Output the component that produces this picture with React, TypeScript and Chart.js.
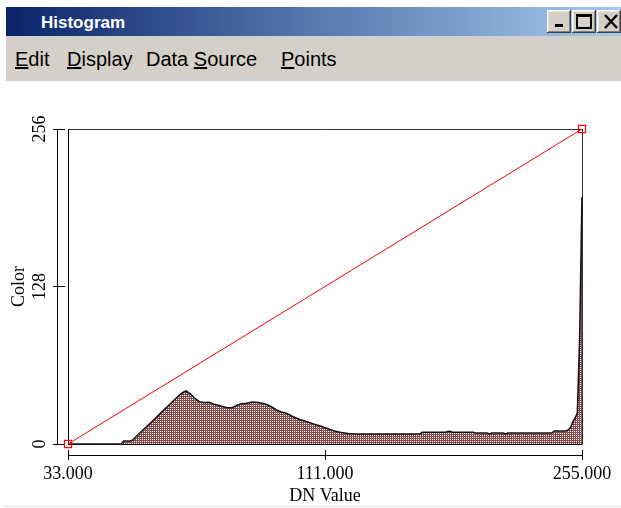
import React, { useEffect, useRef } from 'react';
import { Chart, registerables } from 'chart.js';

Chart.register(...registerables);

// Histogram: DN value and relative frequency
const histDN = [33, 56, 57, 60, 61, 64, 67, 70, 73, 76, 78, 80, 82, 83, 84, 85, 86, 88, 90, 92, 94, 96, 98, 100, 102, 104, 106, 108, 110, 113, 115, 117, 119, 121, 123, 125, 127, 128, 130, 133, 136, 139, 142, 145, 148, 151, 154, 157, 170, 185, 186, 196, 197, 198, 199, 208, 209, 214, 215, 216, 221, 222, 223, 235, 242, 243, 248, 249, 250, 251, 252, 253, 254, 255];
const histCounts = [0, 0, 3, 3, 4, 11, 17.5, 24, 31, 37.5, 42, 46.5, 50.5, 52, 53, 51.5, 50, 45, 42, 41.5, 41.7, 39.7, 38.8, 37.3, 36.3, 36.3, 38.7, 40.3, 40.8, 42, 41.5, 40.8, 39.3, 37, 34, 32, 31, 30, 27.5, 24.5, 22.5, 20, 18, 15.5, 13, 11.5, 10.5, 10, 10, 10, 11.7, 11.7, 12.5, 12.7, 11.7, 11.7, 11, 11, 10, 11, 11, 10, 11, 11, 11, 13, 13, 14, 16.5, 22, 26, 31, 106, 247];
const histMax = 315;

// Colour mapping line (DN -> Color)
const mapInput = [33, 255];
const mapOutput = [0, 256];

// Axes
const xMin = 33;
const xMax = 255;
const xTickValues = [33, 144, 255];
const xTickLabels = ['33.000', '111.000', '255.000'];
const yTickValues = [0, 128, 256];
const yTickLabels = ['0', '128', '256'];

const menuItems = [
  { label: 'Edit', u: 0, left: 15 },
  { label: 'Display', u: 0, left: 67 },
  { label: 'Data Source', u: 5, left: 146 },
  { label: 'Points', u: 0, left: 281 },
];

const serif = "'Liberation Serif', 'Times New Roman', serif";

function setTicks(values: number[]) {
  return (scale: any) => {
    scale.ticks = values.map((v) => ({ value: v }));
  };
}

function gapScale(position: string, weight: number, size: number, color: string | null) {
  const horizontal = position === 'top' || position === 'bottom';
  return {
    type: 'linear',
    position,
    weight,
    display: true,
    min: 0,
    max: 1,
    ticks: { display: false },
    grid: { display: false, drawTicks: false },
    border: { display: !!color, color: color || '#000', width: 1 },
    afterFit: (s: any) => {
      if (horizontal) s.height = size;
      else s.width = size;
    },
  };
}

export default function App() {
  const canvasRef = useRef<HTMLCanvasElement | null>(null);

  useEffect(() => {
    const canvas = canvasRef.current;
    if (!canvas) return;
    const ctx = canvas.getContext('2d');
    if (!ctx) return;

    const pc = document.createElement('canvas');
    pc.width = 2;
    pc.height = 2;
    const p = pc.getContext('2d')!;
    p.fillStyle = '#8a4848';
    p.fillRect(0, 0, 2, 2);
    p.fillStyle = '#ffffff';
    p.fillRect(0, 0, 1, 1);
    const pattern = ctx.createPattern(pc, 'repeat');

    const chart = new Chart(ctx, {
      type: 'line',
      data: {
        datasets: [
          {
            label: 'Color',
            data: mapInput.map((x, i) => ({ x, y: mapOutput[i] })),
            xAxisID: 'x',
            yAxisID: 'y',
            borderColor: '#ff0000',
            borderWidth: 1,
            pointStyle: 'rect',
            pointRadius: 5,
            pointBorderColor: '#ff0000',
            pointBackgroundColor: 'rgba(0,0,0,0)',
            pointBorderWidth: 1.2,
            fill: false,
            tension: 0,
            clip: false,
            order: 0,
          } as any,
          {
            label: 'Histogram',
            data: histDN.map((x, i) => ({ x, y: histCounts[i] })),
            xAxisID: 'x',
            yAxisID: 'yHist',
            borderColor: '#141414',
            borderWidth: 1.6,
            backgroundColor: pattern as any,
            fill: 'origin',
            pointRadius: 0,
            tension: 0,
            clip: false,
            order: 1,
          } as any,
        ],
      },
      options: {
        responsive: false,
        animation: false,
        devicePixelRatio: 1,
        events: [],
        layout: { padding: { left: 0, top: 48, right: 39, bottom: 0 } },
        plugins: {
          legend: { display: false },
          tooltip: { enabled: false },
        },
        scales: {
          x: {
            type: 'linear',
            position: 'bottom',
            weight: 2,
            display: true,
            min: xMin,
            max: xMax,
            afterBuildTicks: setTicks(xTickValues),
            ticks: {
              callback: (_v: any, i: number) => xTickLabels[i],
              font: { family: serif, size: 18 },
              color: '#000',
              padding: 8,
              maxRotation: 0,
              autoSkip: false,
            },
            grid: { display: false, drawTicks: false },
            border: { display: true, color: '#000', width: 1 },
            title: {
              display: true,
              text: 'DN Value',
              font: { family: serif, size: 18 },
              color: '#000',
              padding: { top: 0, bottom: 1 },
            },
            afterFit: (s: any) => { s.height = 53; },
          },
          xTicks: {
            type: 'linear',
            position: 'bottom',
            weight: 1,
            display: true,
            min: xMin,
            max: xMax,
            afterBuildTicks: setTicks(xTickValues),
            ticks: { display: false, autoSkip: false },
            grid: { display: true, drawOnChartArea: false, drawTicks: true, tickLength: 10, color: '#000', lineWidth: 1 },
            border: { display: false },
            afterFit: (s: any) => { s.height = 5; },
          },
          xGap: gapScale('bottom', 0, 6, '#000'),
          xTop: gapScale('top', 0, 0, '#333'),
          y: {
            type: 'linear',
            position: 'left',
            weight: 2,
            display: true,
            min: 0,
            max: 256,
            afterBuildTicks: setTicks(yTickValues),
            ticks: {
              callback: (_v: any, i: number) => yTickLabels[i],
              minRotation: 90,
              maxRotation: 90,
              crossAlign: 'center',
              padding: 3,
              font: { family: serif, size: 18 },
              color: '#000',
              autoSkip: false,
            },
            grid: { display: false, drawTicks: false },
            border: { display: true, color: '#000', width: 1 },
            title: {
              display: true,
              text: 'Color',
              font: { family: serif, size: 18 },
              color: '#000',
              padding: { top: 8, bottom: 0 },
            },
            afterFit: (s: any) => { s.width = 57; },
          },
          yTicks: {
            type: 'linear',
            position: 'left',
            weight: 1,
            display: true,
            min: 0,
            max: 256,
            afterBuildTicks: setTicks(yTickValues),
            ticks: { display: false, autoSkip: false },
            grid: { display: true, drawOnChartArea: false, drawTicks: true, tickLength: 12, color: '#000', lineWidth: 1 },
            border: { display: false },
            afterFit: (s: any) => { s.width = 8; },
          },
          yGap: gapScale('left', 0, 3, '#000'),
          yRight: gapScale('right', 0, 0, '#333'),
          yHist: {
            type: 'linear',
            display: false,
            min: 0,
            max: histMax,
          },
        } as any,
      },
    });

    return () => chart.destroy();
  }, []);

  const btnBase: React.CSSProperties = {
    position: 'absolute',
    top: 10,
    width: 24,
    height: 23,
    boxSizing: 'border-box',
    background: '#d4d0c8',
    boxShadow: 'inset -1px -1px #404040, inset 1px 1px #ffffff, inset -2px -2px #808080, inset 2px 2px #e8e6e0',
  };

  return (
    <div style={{ position: 'relative', width: 621, height: 508, background: '#ffffff', overflow: 'hidden' }}>
      <style>{`html,body{margin:0;padding:0;background:#fff;}`}</style>
      {/* Title bar */}
      <div
        style={{
          position: 'absolute',
          left: 6,
          top: 7,
          width: 615,
          height: 29,
          background: 'linear-gradient(to right, #0a246a, #a6caf0)',
        }}
      />
      <div
        style={{
          position: 'absolute',
          left: 41,
          top: 14,
          fontFamily: "'Liberation Sans', Arial, sans-serif",
          fontWeight: 'bold',
          fontSize: 17,
          lineHeight: '17px',
          color: '#ffffff',
          whiteSpace: 'nowrap',
        }}
      >
        Histogram
      </div>
      <div style={{ ...btnBase, left: 547 }}>
        <svg width="24" height="23" style={{ position: 'absolute', left: 0, top: 0 }}>
          <rect x="8" y="14" width="8" height="3" fill="#000" />
        </svg>
      </div>
      <div style={{ ...btnBase, left: 572 }}>
        <svg width="24" height="23" style={{ position: 'absolute', left: 0, top: 0 }}>
          <rect x="5" y="5" width="14" height="13" fill="none" stroke="#000" strokeWidth="2" />
          <rect x="5" y="5" width="14" height="2" fill="#000" />
        </svg>
      </div>
      <div style={{ ...btnBase, left: 597 }}>
        <svg width="24" height="23" style={{ position: 'absolute', left: 0, top: 0 }}>
          <path d="M8 5 L20 18 M20 5 L8 18" stroke="#000" strokeWidth="2.4" />
        </svg>
      </div>
      {/* Menu bar */}
      <div
        style={{
          position: 'absolute',
          left: 6,
          top: 36,
          width: 615,
          height: 45,
          background: '#d4d0c8',
        }}
      />
      {menuItems.map((m) => (
        <span
          key={m.label}
          style={{
            position: 'absolute',
            left: m.left,
            top: 50,
            fontFamily: "'Liberation Sans', Arial, sans-serif",
            fontSize: 20,
            lineHeight: '19px',
            color: '#000',
            whiteSpace: 'pre',
          }}
        >
          {m.label.slice(0, m.u)}
          <u>{m.label.charAt(m.u)}</u>
          {m.label.slice(m.u + 1)}
        </span>
      ))}
      {/* Chart */}
      <div style={{ position: 'absolute', left: 0, top: 81, width: 621, height: 427 }}>
        <canvas ref={canvasRef} width={621} height={427} style={{ display: 'block' }} />
      </div>
      <div style={{ position: 'absolute', left: 5, top: 506, width: 616, height: 1, background: '#e2e2e2' }} />
    </div>
  );
}
